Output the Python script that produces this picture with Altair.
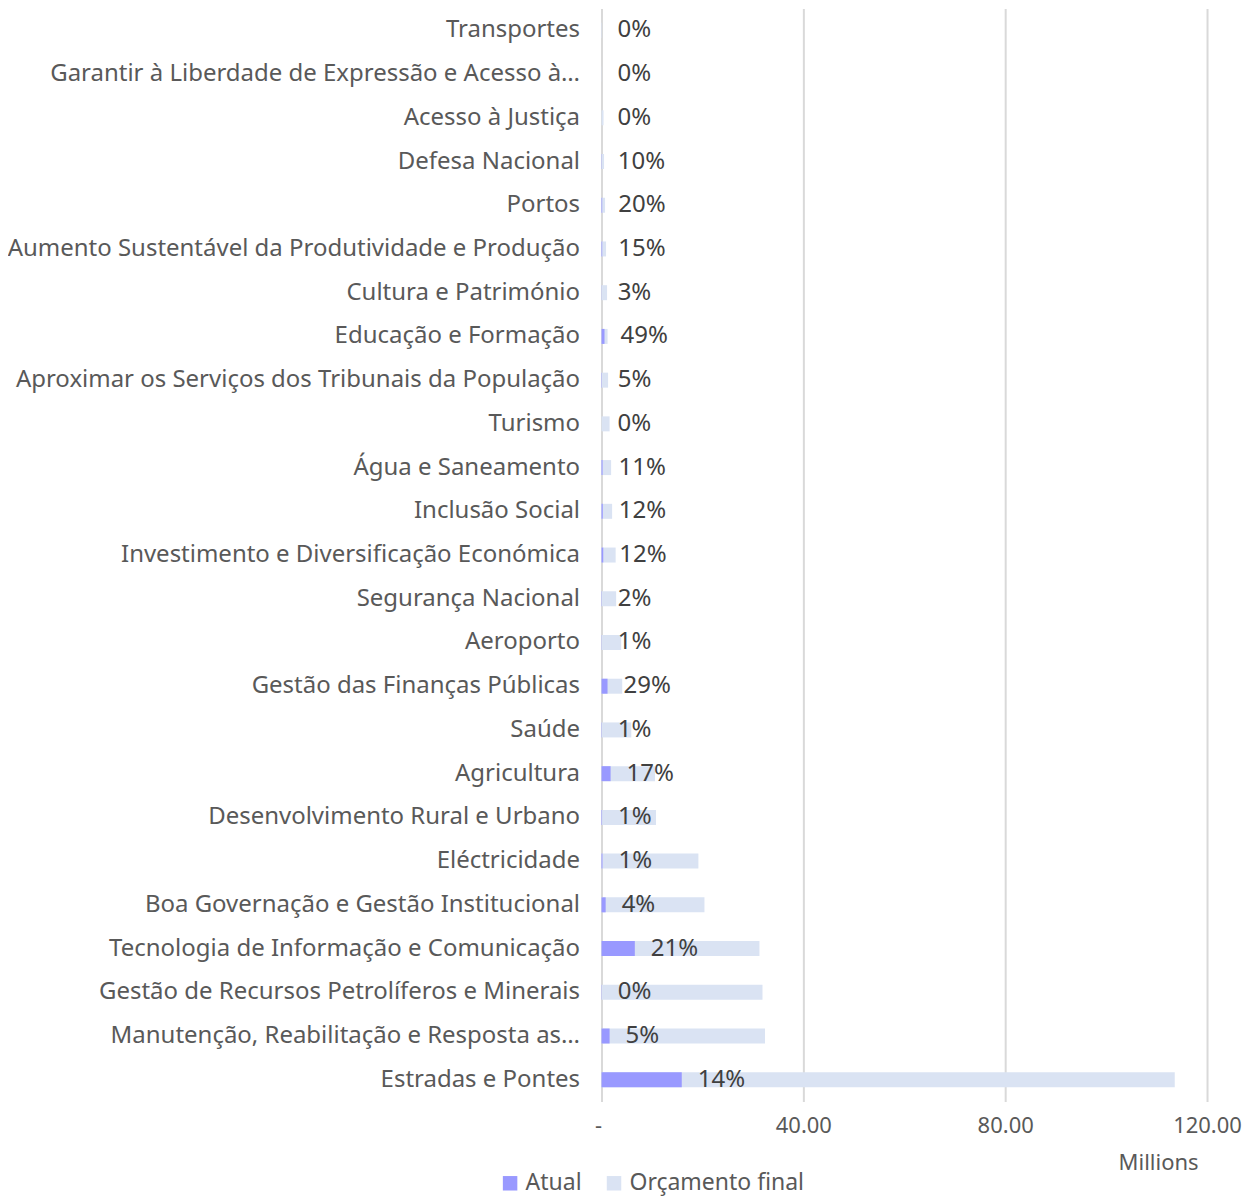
import altair as alt
import pandas as pd

categories = [
    "Transportes",
    "Garantir à Liberdade de Expressão e Acesso à…",
    "Acesso à Justiça",
    "Defesa Nacional",
    "Portos",
    "Aumento Sustentável da Produtividade e Produção",
    "Cultura e Património",
    "Educação e Formação",
    "Aproximar os Serviços dos Tribunais da População",
    "Turismo",
    "Água e Saneamento",
    "Inclusão Social",
    "Investimento e Diversificação Económica",
    "Segurança Nacional",
    "Aeroporto",
    "Gestão das Finanças Públicas",
    "Saúde",
    "Agricultura",
    "Desenvolvimento Rural e Urbano",
    "Eléctricidade",
    "Boa Governação e Gestão Institucional",
    "Tecnologia de Informação e Comunicação",
    "Gestão de Recursos Petrolíferos e Minerais",
    "Manutenção, Reabilitação e Resposta as…",
    "Estradas e Pontes",
]
orcamento_final = [0.1, 0.05, 0.4, 0.5, 0.7, 0.9, 1.1, 1.2, 1.3, 1.6, 1.9, 2.1, 2.8, 2.9,
                   3.9, 4.1, 5.9, 10.6, 10.8, 19.2, 20.4, 31.3, 31.9, 32.4, 113.6]
atual = [0.0, 0.0, 0.0, 0.05, 0.14, 0.14, 0.03, 0.59, 0.07, 0.0, 0.21, 0.25, 0.34, 0.06,
         0.04, 1.19, 0.06, 1.8, 0.11, 0.19, 0.82, 6.6, 0.05, 1.6, 15.9]
pct_labels = ["0%", "0%", "0%", "10%", "20%", "15%", "3%", "49%", "5%", "0%", "11%", "12%",
              "12%", "2%", "1%", "29%", "1%", "17%", "1%", "1%", "4%", "21%", "0%", "5%", "14%"]
series_names = ["Atual", "Orçamento final"]
x_ticks = [0, 40, 80, 120]

df = pd.DataFrame({
    "cat": categories,
    "orc": orcamento_final,
    "atual": atual,
    "pct": pct_labels,
    "s_atual": series_names[0],
    "s_orc": series_names[1],
})

FONT = "Noto Sans"
GRAY = "#595959"

color_scale = alt.Scale(domain=series_names, range=["#9999ff", "#dae3f3"])

y_enc = alt.Y("cat:N", sort=categories, title=None,
              axis=alt.Axis(labelFontSize=24, labelColor=GRAY, labelFont=FONT,
                            labelPadding=22, ticks=False, domain=False,
                            labelLimit=2000, grid=False))

x_axis = alt.Axis(values=x_ticks,
                  labelExpr="datum.value == 0 ? '-' : format(datum.value, '.2f')",
                  labelAlign={"condition": {"test": "datum.value == 0", "value": "right"},
                              "value": "center"},
                  labelFontSize=22, labelColor=GRAY, labelFont=FONT, labelPadding=14,
                  ticks=False, domain=False, grid=True, gridColor="#d9d9d9", gridWidth=2,
                  title="Millions", titleFontSize=22, titleFont=FONT, titleColor=GRAY,
                  titleFontWeight="normal", titleX=597, titleY=61, titleAlign="right",
                  titleBaseline="middle")

legend = alt.Legend(title=None, orient="none", legendX=-103, legendY=1164,
                    direction="horizontal", symbolType="square", symbolSize=210,
                    symbolStrokeWidth=0, labelFontSize=23, labelFont=FONT,
                    labelColor=GRAY, columnPadding=20, labelOffset=4, labelLimit=1000)

base = alt.Chart(df)

orc_bar = base.mark_bar(size=15).encode(
    x=alt.X("orc:Q", scale=alt.Scale(domain=[0, 120], nice=False), axis=x_axis),
    y=y_enc,
    color=alt.Color("s_orc:N", scale=color_scale, legend=legend),
)

atual_bar = base.mark_bar(size=15).encode(
    x="atual:Q",
    y=alt.Y("cat:N", sort=categories),
    color=alt.Color("s_atual:N", scale=color_scale, legend=legend),
)

labels = base.mark_text(align="left", baseline="middle", dx=16, fontSize=24,
                        font=FONT, color="#404040").encode(
    x="atual:Q",
    y=alt.Y("cat:N", sort=categories),
    text="pct:N",
)

chart = alt.layer(orc_bar, atual_bar, labels).properties(
    width=606, height=1094,
    autosize=alt.AutoSizeParams(type="none"),
    padding={"left": 594, "top": 0, "right": 40, "bottom": 96},
).configure_view(stroke=None)

chart.save("out.html", embed_options={"renderer": "svg", "actions": False})
